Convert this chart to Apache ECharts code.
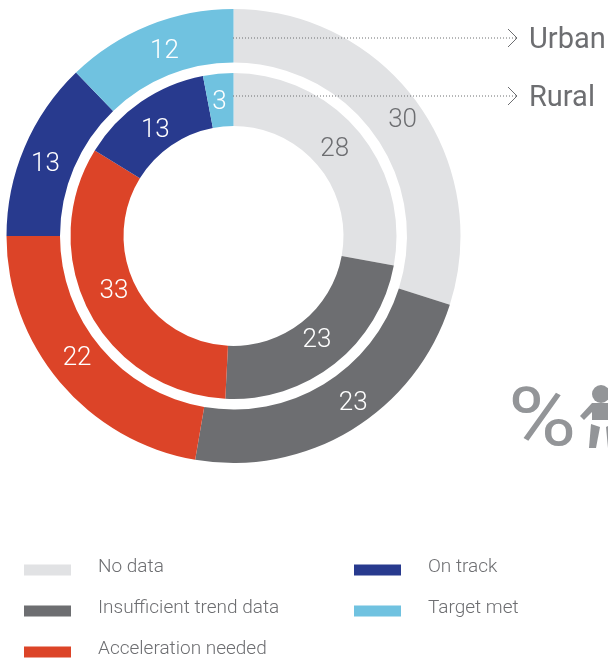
<!DOCTYPE html>
<html><head><meta charset="utf-8">
<style>html,body{margin:0;padding:0;background:#fff}#c{width:608px;height:658px}</style>
<script src="https://cdn.jsdelivr.net/npm/echarts@6/dist/echarts.min.js"></script>
</head><body><div id="c"></div>
<script>
const categories = ['No data','Insufficient trend data','Acceleration needed','On track','Target met'];
const urban = [29.9,22.8,22.3,12.8,12.2];
const rural = [27.9,22.9,33,13.2,3];
const colors = ['#e1e2e4','#6d6e71','#dc4428','#283a8e','#70c2e0'];
const labelColors = ['#6d6e71','#fff','#fff','#fff','#fff'];
const urbanNudge = [[5,4],[14,-6],[-1,-9],[-1,8],[7,4]];
const ruralNudge = [[-6,3],[-3,-5],[4,-9],[1,9],[-1,5]];
const FONT = 'Roboto, sans-serif';
const GREY = '#6d6e71';
const ICON = '#939598';
function items(vals,nudge){return vals.map((v,i)=>({name:categories[i],value:v,
  itemStyle:{color:colors[i]},label:{color:labelColors[i],offset:nudge[i]}}));}
function ring(name,vals,nudge,r){return {type:'pie',name,center:[233.5,236],radius:r,startAngle:90,clockwise:true,
  animation:false,silent:true,legendHoverLink:false,z:2,
  label:{show:true,position:'inside',formatter:p=>String(Math.round(p.value)),fontFamily:FONT,fontSize:26,fontWeight:300},
  labelLine:{show:false},data:items(vals,nudge)};}
function leader(y,text){return [
  {type:'line',z:50,shape:{x1:233,y1:y,x2:517,y2:y},style:{stroke:GREY,lineWidth:1,lineDash:[1,2]}},
  {type:'polyline',z:50,shape:{points:[[508,y-9],[517,y],[508,y+9]]},style:{stroke:GREY,lineWidth:1,fill:null}},
  {type:'text',z:50,style:{x:529,y:y+3,text,fill:GREY,font:'400 29px '+FONT,textVerticalAlign:'middle'}}
];}
const chart = echarts.init(document.getElementById('c'),null,{renderer:'canvas'});
const legendBase={orient:'vertical',itemWidth:47,itemHeight:16,itemGap:22,
  icon:'path://M0,0 L47,0 L47,0 Z M0,5 L47,5 L47,16 L0,16 Z',selectedMode:false,height:110,
  textStyle:{color:GREY,fontFamily:FONT,fontWeight:300,fontSize:19,lineHeight:16,padding:[0,0,0,22]}};
chart.setOption({
  animation:false,
  legend:[
    Object.assign({},legendBase,{left:24,top:558,padding:0,data:categories.slice(0,3)}),
    Object.assign({},legendBase,{left:354,top:558,padding:0,data:categories.slice(3)})
  ],
  series:[ring('Urban',urban,urbanNudge,[173.5,227]),ring('Rural',rural,ruralNudge,[110,163])],
  graphic:{elements:[
    ...leader(38,'Urban'),...leader(96,'Rural'),
    {type:'text',z:50,x:508,y:425,scaleX:1.15,style:{x:0,y:0,text:'%',fill:ICON,font:'400 81px '+FONT,textVerticalAlign:'middle'}},
    {type:'circle',z:50,shape:{cx:601,cy:394,r:9},style:{fill:ICON}},
    {type:'polygon',z:50,shape:{points:[[592,403],[612,403],[612,420],[592,420],[592,412],[584,420],[580,416]]},style:{fill:ICON}},
    {type:'polygon',z:50,shape:{points:[[591,424],[600,427],[596,448],[589,448]]},style:{fill:ICON}},
    {type:'polygon',z:50,shape:{points:[[606,427],[612,424],[612,448],[608,448]]},style:{fill:ICON}}
  ]}
});
</script></body></html>
